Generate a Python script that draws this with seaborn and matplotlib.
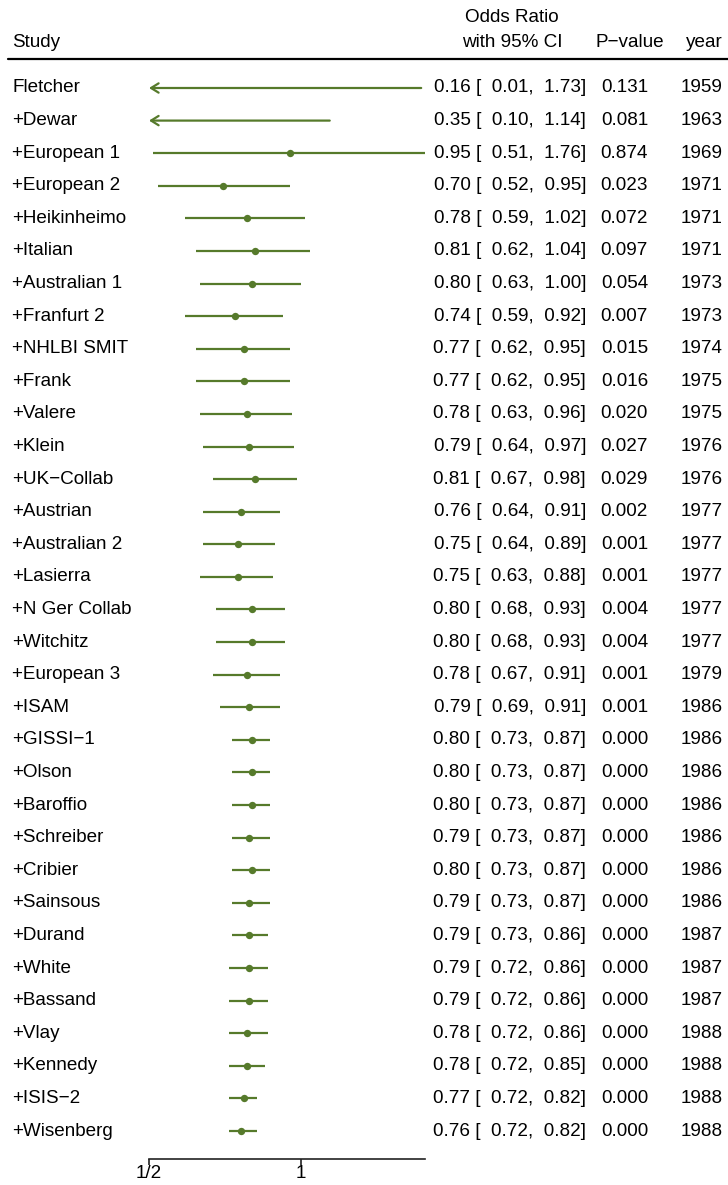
import numpy as np
import pandas as pd
import seaborn as sns
import matplotlib.pyplot as plt
import matplotlib.transforms as mtransforms

# Data
studies = ["Fletcher", "+Dewar", "+European 1", "+European 2", "+Heikinheimo",
           "+Italian", "+Australian 1", "+Franfurt 2", "+NHLBI SMIT", "+Frank",
           "+Valere", "+Klein", "+UK\u2212Collab", "+Austrian", "+Australian 2",
           "+Lasierra", "+N Ger Collab", "+Witchitz", "+European 3", "+ISAM",
           "+GISSI\u22121", "+Olson", "+Baroffio", "+Schreiber", "+Cribier",
           "+Sainsous", "+Durand", "+White", "+Bassand", "+Vlay", "+Kennedy",
           "+ISIS\u22122", "+Wisenberg"]
est = [0.16, 0.35, 0.95, 0.70, 0.78, 0.81, 0.80, 0.74, 0.77, 0.77, 0.78, 0.79,
       0.81, 0.76, 0.75, 0.75, 0.80, 0.80, 0.78, 0.79, 0.80, 0.80, 0.80, 0.79,
       0.80, 0.79, 0.79, 0.79, 0.79, 0.78, 0.78, 0.77, 0.76]
lower = [0.01, 0.10, 0.51, 0.52, 0.59, 0.62, 0.63, 0.59, 0.62, 0.62, 0.63, 0.64,
         0.67, 0.64, 0.64, 0.63, 0.68, 0.68, 0.67, 0.69, 0.73, 0.73, 0.73, 0.73,
         0.73, 0.73, 0.73, 0.72, 0.72, 0.72, 0.72, 0.72, 0.72]
upper = [1.73, 1.14, 1.76, 0.95, 1.02, 1.04, 1.00, 0.92, 0.95, 0.95, 0.96, 0.97,
         0.98, 0.91, 0.89, 0.88, 0.93, 0.93, 0.91, 0.91, 0.87, 0.87, 0.87, 0.87,
         0.87, 0.87, 0.86, 0.86, 0.86, 0.86, 0.85, 0.82, 0.82]
pvals = ["0.131", "0.081", "0.874", "0.023", "0.072", "0.097", "0.054", "0.007",
         "0.015", "0.016", "0.020", "0.027", "0.029", "0.002", "0.001", "0.001",
         "0.004", "0.004", "0.001", "0.001"] + ["0.000"] * 13
years = [1959, 1963, 1969, 1971, 1971, 1971, 1973, 1973, 1974, 1975, 1975, 1976,
         1976, 1977, 1977, 1977, 1977, 1977, 1979, 1986, 1986, 1986, 1986, 1986,
         1986, 1986, 1987, 1987, 1987, 1988, 1988, 1988, 1988]
xticks = [0.5, 1]
xtick_labels = ["1/2", "1"]

# Config
sns.set_theme(style="white")
plt.rcParams['font.family'] = ['Liberation Sans', 'DejaVu Sans']
plt.rcParams['text.color'] = 'black'

GREEN = '#567a2b'
FS = 13.6
W, H = 728, 1185
alim = (0.5, 1.76)

k = len(studies)
df = pd.DataFrame({"study": studies, "est": est, "lower": lower, "upper": upper,
                   "p": pvals, "year": years})
df["row"] = np.arange(k, 0, -1)

fig = plt.figure(figsize=(W / 100, H / 100), dpi=100)
ax = fig.add_axes([0, 0, 1, 1])

# x: log2 scale, 1/2 at px 149, 1 at px 301
ppx = 152.0
ax.set_xscale('log', base=2)
ax.set_xlim(0.5 * 2 ** (-149 / ppx), 0.5 * 2 ** ((W - 149) / ppx))
# y: row 33 at px 88, row 1 at px 1131
ppy = (1131 - 88) / (k - 1)
ax.set_ylim(1 - (H - 1131) / ppy, k + 88 / ppy)

# CI lines, clipped at axis limits
inside = df[df["lower"] >= alim[0]]
ax.hlines(inside["row"], inside["lower"], inside["upper"].clip(upper=alim[1]),
          color=GREEN, lw=1.6)
clipped = df[df["lower"] < alim[0]]
for _, r in clipped.iterrows():
    ax.annotate("", xy=(alim[0], r["row"]), xytext=(min(r["upper"], alim[1]), r["row"]),
                arrowprops=dict(arrowstyle="->,head_length=0.45,head_width=0.28",
                                color=GREEN, lw=1.6, shrinkA=0, shrinkB=0))

# Point estimates (only those on the axis)
pts = df[(df["est"] >= alim[0]) & (df["est"] <= alim[1])]
sns.scatterplot(data=pts, x="est", y="row", ax=ax, color=GREEN, s=28,
                edgecolor=GREEN, linewidth=0, legend=False, zorder=3)

# Text columns (x in axes fraction, y in data)
tr = mtransforms.blended_transform_factory(ax.transAxes, ax.transData)
for _, r in df.iterrows():
    ax.text(12 / W, r["row"], r["study"], transform=tr, ha='left', va='center', fontsize=FS)
    ci = f"{r['est']:.2f} [  {r['lower']:.2f},  {r['upper']:.2f}]"
    ax.text(586 / W, r["row"], ci, transform=tr, ha='right', va='center', fontsize=FS)
    ax.text(648 / W, r["row"], r["p"], transform=tr, ha='right', va='center', fontsize=FS)
    ax.text(723 / W, r["row"], str(r["year"]), transform=tr, ha='right', va='center', fontsize=FS)

# Headers
yh = k + (88 - 43) / ppy
ax.text(12 / W, yh, "Study", transform=tr, ha='left', va='center', fontsize=FS)
ax.text(512 / W, k + (88 - 18) / ppy, "Odds Ratio", transform=tr, ha='center', va='center', fontsize=FS)
ax.text(512 / W, yh, "with 95% CI", transform=tr, ha='center', va='center', fontsize=FS)
ax.text(630 / W, yh, "P\u2212value", transform=tr, ha='center', va='center', fontsize=FS)
ax.text(704 / W, yh, "year", transform=tr, ha='center', va='center', fontsize=FS)
ax.axhline(k + (88 - 59) / ppy, xmin=8 / W, xmax=1, color='black', lw=1.6)

# Axis
for s in ['left', 'top', 'right']:
    ax.spines[s].set_visible(False)
ax.spines['bottom'].set_position(('data', 1 - (1159 - 1131) / ppy))
ax.spines['bottom'].set_bounds(*alim)
ax.spines['bottom'].set_color('#222222')
ax.spines['bottom'].set_linewidth(1.2)
ax.set_xticks(xticks)
ax.set_xticklabels(xtick_labels)
ax.xaxis.set_minor_locator(plt.NullLocator())
ax.tick_params(axis='x', direction='out', length=4, width=1.2, pad=0.5,
               labelsize=FS, bottom=True, colors='#222222', labelcolor='black')
ax.set_yticks([])
ax.set_xlabel("")
ax.set_ylabel("")

plt.savefig("out.png", dpi=100)
